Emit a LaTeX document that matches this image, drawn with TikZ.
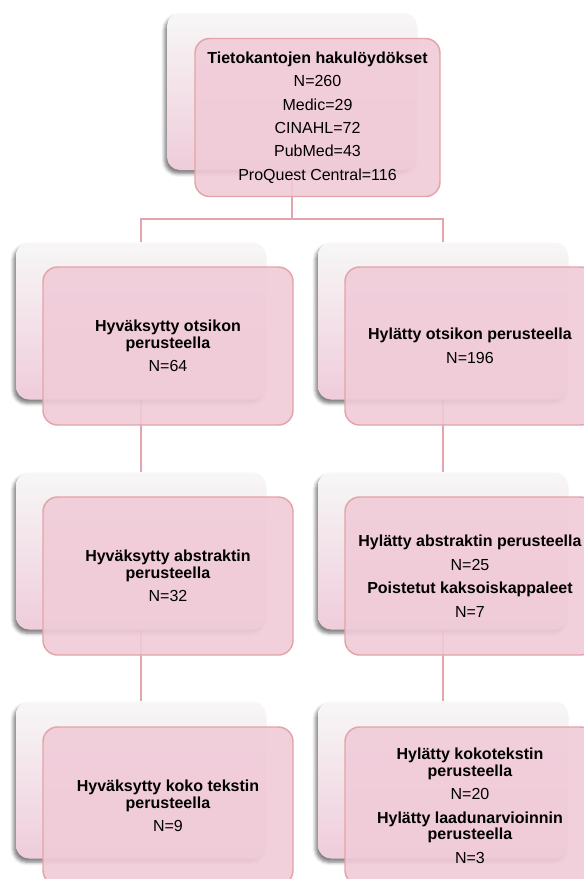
\documentclass[tikz,border=0pt]{standalone}
\usepackage{fontspec}
\setmainfont{Liberation Sans}
\usetikzlibrary{shadows.blur}
\definecolor{frontfill}{RGB}{240,203,216}
\definecolor{frontline}{RGB}{226,164,168}
\definecolor{connclr}{RGB}{224,166,171}
\definecolor{backtop}{RGB}{247,247,247}
\definecolor{backbot}{RGB}{239,204,218}
\pgfdeclarelayer{bg}
\pgfsetlayers{bg,main}
\begin{document}
\begin{tikzpicture}[x=0.75pt,y=-0.75pt,
  backbox/.style={rectangle, rounded corners=9.75pt, minimum width=187.5pt, minimum height=117.75pt, inner sep=0pt,
    top color=backtop, bottom color=backbot, draw=none,
    blur shadow={shadow xshift=-1.8pt, shadow yshift=-2.8pt, shadow opacity=50, shadow blur radius=2.5pt}},
  frontbox/.style={rectangle, rounded corners=11pt, minimum width=187.5pt, minimum height=118.5pt, inner sep=0pt,
    fill=frontfill, fill opacity=0.9, text opacity=1, draw=frontline, line width=1.1pt,
    align=center, font=\fontsize{12}{12.4}\selectfont},
  connline/.style={draw=connclr, line width=1.5pt}]
\clip (0,0) rectangle (584,879);

% top
\node[backbox] (tb) at (292,91.5) {};
\node[frontbox, minimum width=183.75pt] (tf) at (317.5,117.5)
  {\textbf{Tietokantojen hakulöydökset}\\[5.2pt]N=260\\[5.2pt]Medic=29\\[5.2pt]CINAHL=72\\[5.2pt]PubMed=43\\[5.2pt]ProQuest Central=116};

% level 1
\node[backbox] (l1b) at (141,321) {};
\node[frontbox] (l1f) at (168,346)
  {\textbf{Hyväksytty otsikon}\\\textbf{perusteella}\\[5.2pt]N=64};
\node[backbox] (r1b) at (443,321) {};
\node[frontbox] (r1f) at (470,346)
  {\textbf{Hylätty otsikon perusteella}\\[5.2pt]N=196};

% level 2
\node[backbox] (l2b) at (141,551) {};
\node[frontbox] (l2f) at (168,576)
  {\textbf{Hyväksytty abstraktin}\\\textbf{perusteella}\\[5.2pt]N=32};
\node[backbox] (r2b) at (443,551) {};
\node[frontbox] (r2f) at (470,576)
  {\textbf{Hylätty abstraktin perusteella}\\[5.2pt]N=25\\[5.2pt]\textbf{Poistetut kaksoiskappaleet}\\[5.2pt]N=7};

% level 3
\node[backbox] (l3b) at (141,780) {};
\node[frontbox] (l3f) at (168,806)
  {\textbf{Hyväksytty koko tekstin}\\\textbf{perusteella}\\[5.2pt]N=9};
\node[backbox] (r3b) at (443,780) {};
\node[frontbox] (r3f) at (470,806)
  {\textbf{Hylätty kokotekstin}\\\textbf{perusteella}\\[5.2pt]N=20\\[5.2pt]\textbf{Hylätty laadunarvioinnin}\\\textbf{perusteella}\\[5.2pt]N=3};

\begin{pgfonlayer}{bg}
  \coordinate (split) at (292,219);
  \draw[connline] (tb.south) -- (split);
  \draw[connline] (split) -| (l1b.north);
  \draw[connline] (split) -| (r1b.north);
  \draw[connline] (l1b.south) -- (l2b.north);
  \draw[connline] (l2b.south) -- (l3b.north);
  \draw[connline] (r1b.south) -- (r2b.north);
  \draw[connline] (r2b.south) -- (r3b.north);
\end{pgfonlayer}
\end{tikzpicture}
\end{document}
